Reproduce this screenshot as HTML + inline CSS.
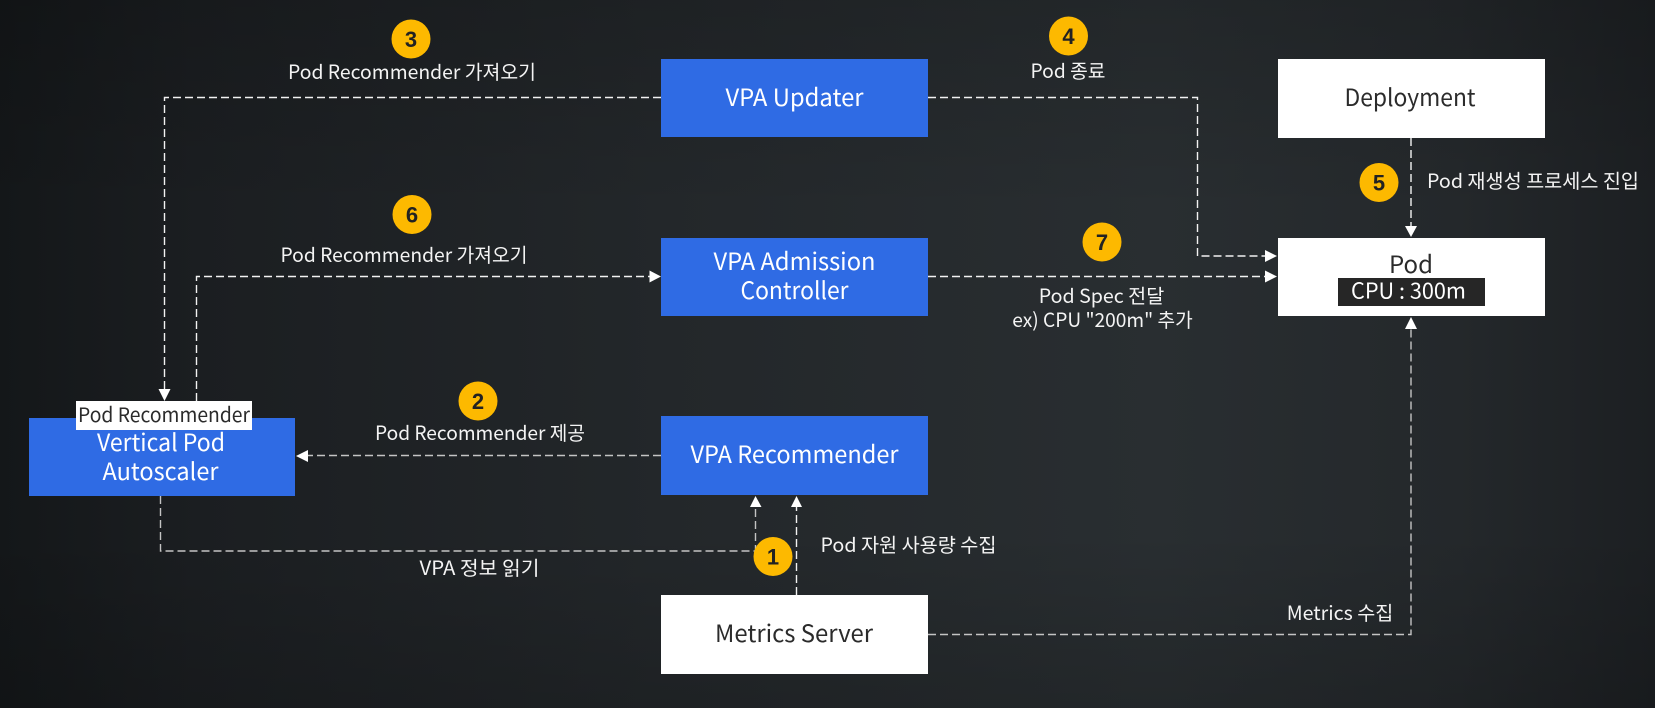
<!DOCTYPE html>
<html><head><meta charset="utf-8">
<style>
html,body{margin:0;padding:0;width:1655px;height:708px;overflow:hidden;background:#1f2326}
svg{display:block}
text{font-family:"Noto Sans CJK KR","Liberation Sans",sans-serif}
.w{fill:#f4f4f4;font-size:19.5px;text-anchor:middle}
.b{font-size:24px;text-anchor:middle;fill:#fff}
.n{font-size:22px;font-weight:700;fill:#222;text-anchor:middle;font-family:"Liberation Sans",sans-serif}
.l{fill:none;stroke:#f2f2f2;stroke-width:1.4;stroke-dasharray:8 4}
.g{stroke:#c4c4c4}
.a{fill:#fff}
.y{fill:#fdb900}
.bl{fill:#2f6be4}
</style></head><body>
<svg width="1655" height="708" viewBox="0 0 1655 708" xmlns="http://www.w3.org/2000/svg">
<defs>
<linearGradient id="h" x1="0" x2="1" y1="0" y2="0">
<stop offset="0" stop-color="#141719"/><stop offset=".12" stop-color="#1b1e21"/><stop offset=".4" stop-color="#23272a"/><stop offset=".7" stop-color="#292e31"/><stop offset=".88" stop-color="#24282b"/><stop offset="1" stop-color="#1c1f22"/>
</linearGradient>
<linearGradient id="v" x1="0" x2="0" y1="0" y2="1">
<stop offset="0" stop-color="#000" stop-opacity=".15"/><stop offset=".3" stop-color="#000" stop-opacity="0"/><stop offset=".75" stop-color="#000" stop-opacity="0"/><stop offset="1" stop-color="#000" stop-opacity=".15"/>
</linearGradient>
</defs>
<rect width="1655" height="708" fill="url(#h)"/>
<rect width="1655" height="708" fill="url(#v)"/>

<!-- connectors -->
<path class="l" d="M661 97.5H164.5V390"/>
<path class="l" d="M196.5 401V276.5H650"/>
<path class="l" d="M928 97.5H1197.5V256H1265"/>
<path class="l" d="M928 276.5H1265"/>
<path class="l" d="M1411 138V226"/>
<path class="l g" d="M928 634.5H1411V328"/>
<path class="l g" d="M661 455.5H308"/>
<path class="l g" d="M160.5 496V551H755.5V507"/>
<path class="l" d="M796.5 595V507"/>

<!-- arrowheads -->
<polygon class="a" points="164.5,401 158.5,389 170.5,389"/>
<polygon class="a" points="661,276.5 649.5,270.5 649.5,282.5"/>
<polygon class="a" points="1277,256 1265,250 1265,262"/>
<polygon class="a" points="1277,276.5 1265,270.5 1265,282.5"/>
<polygon class="a" points="1411,237 1405,226 1417,226"/>
<polygon class="a" points="1411,317 1405,329 1417,329"/>
<polygon class="a" points="296,456 308,450 308,462"/>
<polygon class="a" points="755.5,496 750,507 761.5,507"/>
<polygon class="a" points="796.5,496 791,507 802,507"/>

<!-- boxes -->
<rect class="bl" x="661" y="59" width="267" height="78"/>
<text class="b" x="794.5" y="106" textLength="138" lengthAdjust="spacingAndGlyphs">VPA Updater</text>
<rect class="bl" x="661" y="238" width="267" height="78"/>
<text class="b" x="794.5" y="270" textLength="162" lengthAdjust="spacingAndGlyphs">VPA Admission</text>
<text class="b" x="794.5" y="299" textLength="108" lengthAdjust="spacingAndGlyphs">Controller</text>
<rect class="bl" x="661" y="416" width="267" height="79"/>
<text class="b" x="794.5" y="463" textLength="208" lengthAdjust="spacingAndGlyphs">VPA Recommender</text>
<rect x="661" y="595" width="267" height="79" fill="#fff"/>
<text class="b" x="794" y="642" style="fill:#2b2b2b" textLength="158" lengthAdjust="spacingAndGlyphs">Metrics Server</text>
<rect x="1278" y="59" width="267" height="79" fill="#fff"/>
<text class="b" x="1410" y="106" style="fill:#2b2b2b" textLength="131" lengthAdjust="spacingAndGlyphs">Deployment</text>
<rect x="1278" y="238" width="267" height="78" fill="#fff"/>
<text class="b" x="1411" y="273" style="fill:#2b2b2b">Pod</text>
<rect x="1338" y="278" width="147" height="28" fill="#262626"/>
<text x="1408.500" y="298.500" style="fill:#fff;font-size:21.5px;text-anchor:middle" textLength="115" lengthAdjust="spacingAndGlyphs">CPU : 300m</text>
<rect class="bl" x="29" y="418" width="266" height="78"/>
<text class="b" x="161" y="451" textLength="128" lengthAdjust="spacingAndGlyphs">Vertical Pod</text>
<text class="b" x="160.500" y="480" textLength="116" lengthAdjust="spacingAndGlyphs">Autoscaler</text>
<rect x="76" y="401" width="176" height="29" fill="#fff"/>
<text x="164" y="422" style="fill:#2b2b2b;font-size:20px;text-anchor:middle" textLength="172" lengthAdjust="spacingAndGlyphs">Pod Recommender</text>

<!-- labels -->
<text class="w" x="412" y="79" textLength="248" lengthAdjust="spacingAndGlyphs">Pod Recommender 가져오기</text>
<text class="w" x="404" y="262" textLength="247" lengthAdjust="spacingAndGlyphs">Pod Recommender 가져오기</text>
<text class="w" x="480" y="440" textLength="210" lengthAdjust="spacingAndGlyphs">Pod Recommender 제공</text>
<text class="w" x="479.500" y="575" textLength="120" lengthAdjust="spacingAndGlyphs">VPA 정보 읽기</text>
<text class="w" x="1068" y="78" textLength="75" lengthAdjust="spacingAndGlyphs">Pod 종료</text>
<text class="w" x="1101.500" y="303" textLength="125.500" lengthAdjust="spacingAndGlyphs">Pod Spec 전달</text>
<text class="w" x="1102.500" y="327" textLength="180.500" lengthAdjust="spacingAndGlyphs">ex) CPU "200m" 추가</text>
<text class="w" x="1533" y="188" textLength="212" lengthAdjust="spacingAndGlyphs">Pod 재생성 프로세스 진입</text>
<text class="w" x="908.500" y="552" textLength="176" lengthAdjust="spacingAndGlyphs">Pod 자원 사용량 수집</text>
<text class="w" x="1340" y="620" textLength="106.500" lengthAdjust="spacingAndGlyphs">Metrics 수집</text>

<!-- numbered badges -->
<circle class="y" cx="411" cy="39" r="19.5"/><text class="n" x="411" y="47">3</text>
<circle class="y" cx="412" cy="214.500" r="19.5"/><text class="n" x="412" y="222.500">6</text>
<circle class="y" cx="1068.500" cy="36" r="19.5"/><text class="n" x="1068.500" y="44">4</text>
<circle class="y" cx="1379" cy="182.500" r="19.5"/><text class="n" x="1379" y="190.500">5</text>
<circle class="y" cx="1102" cy="242" r="19.5"/><text class="n" x="1102" y="250">7</text>
<circle class="y" cx="478" cy="401" r="19.5"/><text class="n" x="478" y="409">2</text>
<circle class="y" cx="773" cy="556.500" r="19.5"/><text class="n" x="773" y="564.500">1</text>
</svg>
</body></html>
